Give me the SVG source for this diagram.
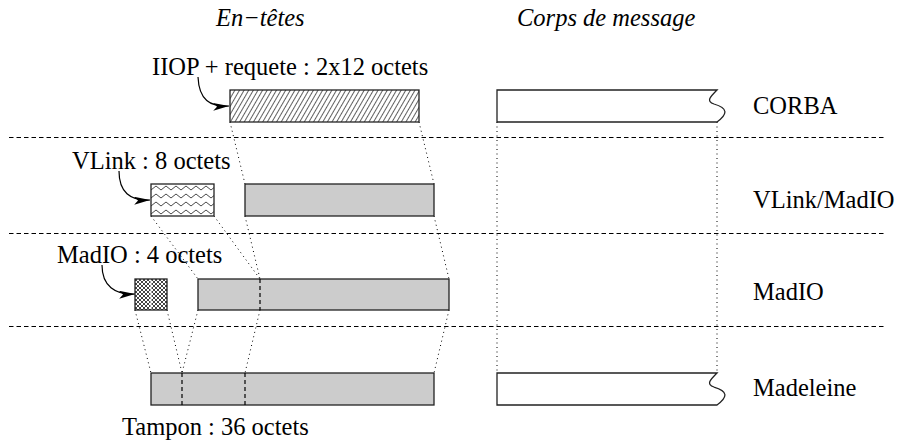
<svg xmlns="http://www.w3.org/2000/svg" width="912" height="443" viewBox="0 0 912 443">
<defs>
<style>
text{font-family:"Liberation Serif","Times New Roman",serif;font-size:24.5px;fill:#000}
.it{font-style:italic}
.sep{stroke:#000;stroke-width:1;stroke-dasharray:4.5 3;fill:none}
.dot{stroke:#000;stroke-width:1;stroke-dasharray:1 3.5;fill:none}
.box{stroke:#222;stroke-width:1.3}
.gray{fill:#cccccc}
.arr{stroke:#000;stroke-width:1.2;fill:none;marker-end:url(#ah)}
.cut{stroke:#000;stroke-width:1.2;stroke-dasharray:4 3;fill:none}
</style>
<marker id="ah" viewBox="0 0 16 8" refX="16" refY="4" markerWidth="16" markerHeight="8" markerUnits="userSpaceOnUse" orient="auto">
<path d="M0,0 L16,4 L0,8 L4,4 Z" fill="#000"/>
</marker>
<pattern id="hatch" width="4" height="4" patternUnits="userSpaceOnUse" patternTransform="rotate(30)">
<rect width="4" height="4" fill="#fff"/>
<line x1="0" y1="0" x2="0" y2="4" stroke="#444" stroke-width="1.7"/>
</pattern>
<pattern id="zig" width="10" height="8" patternUnits="userSpaceOnUse" x="151" y="184">
<rect width="10" height="8" fill="#fff"/>
<path d="M0,6 L5,2 L10,6" stroke="#333" stroke-width="0.9" fill="none"/>
</pattern>
<pattern id="check" width="4" height="4" patternUnits="userSpaceOnUse" x="135" y="279">
<rect width="4" height="4" fill="#fff"/>
<rect width="2" height="2" fill="#444"/>
<rect x="2" y="2" width="2" height="2" fill="#444"/>
</pattern>
</defs>

<g id="titles">
<text class="it" x="216" y="26">En−têtes</text>
<text class="it" x="517" y="26">Corps de message</text>
</g>

<g id="separators">
<line class="sep" x1="9" y1="137.5" x2="886" y2="137.5"/>
<line class="sep" x1="9" y1="233.5" x2="886" y2="233.5"/>
<line class="sep" x1="9" y1="326.5" x2="886" y2="326.5"/>
</g>

<g id="connectors">
<line class="dot" x1="230" y1="122" x2="245" y2="184"/>
<line class="dot" x1="419" y1="122" x2="434" y2="184"/>
<line class="dot" x1="151" y1="216" x2="198" y2="279"/>
<line class="dot" x1="214" y1="216" x2="260" y2="279"/>
<line class="dot" x1="245" y1="216" x2="260" y2="279"/>
<line class="dot" x1="434" y1="216" x2="449" y2="279"/>
<line class="dot" x1="135" y1="310" x2="151" y2="373"/>
<line class="dot" x1="167" y1="310" x2="182" y2="373"/>
<line class="dot" x1="198" y1="310" x2="182" y2="373"/>
<line class="dot" x1="260" y1="310" x2="245" y2="373"/>
<line class="dot" x1="449" y1="310" x2="434" y2="373"/>
<line class="dot" x1="497" y1="122" x2="497" y2="373"/>
<line class="dot" x1="717" y1="122" x2="717" y2="373"/>
<path class="arr" d="M198,77 C199,100 210,107 229,106"/>
<path class="arr" d="M119,171 C119,192 130,201 150,200"/>
<path class="arr" d="M102,265 C102,286 115,295 135,294"/>
</g>

<g id="corba-header">
<rect class="box" x="230" y="90" width="189" height="32" fill="url(#hatch)"/>
<text x="152" y="75">IIOP + requete : 2x12 octets</text>
</g>
<g id="corba-body">
<path class="box" fill="#fff" d="M497,90 L717,90 C710,97 706,101 714,104 C728,108 728,114 717,122 L497,122 Z"/>
</g>

<g id="vlink-header">
<rect class="box" x="151" y="184" width="63" height="32" fill="url(#zig)"/>
<text x="72" y="169">VLink : 8 octets</text>
</g>
<g id="vlink-body">
<rect class="box gray" x="245" y="184" width="189" height="32"/>
</g>

<g id="madio-header">
<rect class="box" x="135" y="279" width="32" height="31" fill="url(#check)"/>
<line x1="151" y1="280" x2="151" y2="309" stroke="#fff" stroke-width="1.5" opacity="0.7"/>
<text x="57" y="263">MadIO : 4 octets</text>
</g>
<g id="madio-body">
<rect class="box gray" x="198" y="279" width="251" height="31"/>
<line class="cut" x1="260" y1="279" x2="260" y2="310"/>
</g>

<g id="madeleine-buffer">
<rect class="box gray" x="151" y="373" width="283" height="32"/>
<line class="cut" x1="182" y1="373" x2="182" y2="405"/>
<line class="cut" x1="245" y1="373" x2="245" y2="405"/>
<text x="122" y="435">Tampon : 36 octets</text>
</g>
<g id="madeleine-body">
<path class="box" fill="#fff" d="M497,373 L717,373 C710,380 706,384 714,387 C728,391 728,397 717,405 L497,405 Z"/>
</g>

<g id="layer-labels">
<text x="753" y="114">CORBA</text>
<text x="753" y="208">VLink/MadIO</text>
<text x="753" y="300">MadIO</text>
<text x="753" y="396">Madeleine</text>
</g>
</svg>
